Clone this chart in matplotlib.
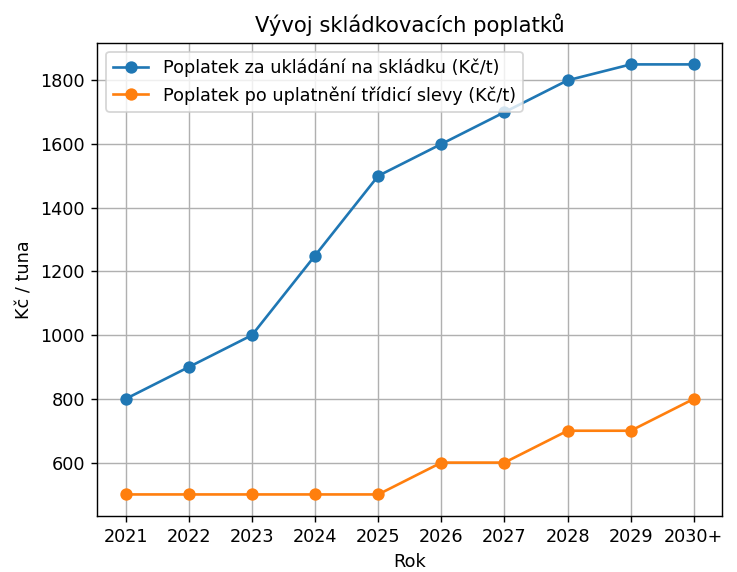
import matplotlib
matplotlib.use("Agg")
import matplotlib.pyplot as plt

# data
roky = ["2021", "2022", "2023", "2024", "2025", "2026", "2027", "2028", "2029", "2030+"]
poplatek = [800, 900, 1000, 1250, 1500, 1600, 1700, 1800, 1850, 1850]
po_sleve = [500, 500, 500, 500, 500, 600, 600, 700, 700, 800]

# reference looks like default style drawn at ~127 dpi
DPI = 127
fig, ax = plt.subplots(figsize=(737 / DPI, 572 / DPI), dpi=DPI)
fig.subplots_adjust(left=0.132, right=0.98, top=0.925, bottom=0.098)

ax.plot(roky, poplatek, marker="o", label="Poplatek za ukládání na skládku (Kč/t)")
ax.plot(roky, po_sleve, marker="o", label="Poplatek po uplatnění třídicí slevy (Kč/t)")

ax.set_title("Vývoj skládkovacích poplatků")
ax.set_xlabel("Rok")
ax.set_ylabel("Kč / tuna")
ax.grid(True)
ax.legend(loc="upper left")

fig.savefig("out.png", dpi=DPI)
